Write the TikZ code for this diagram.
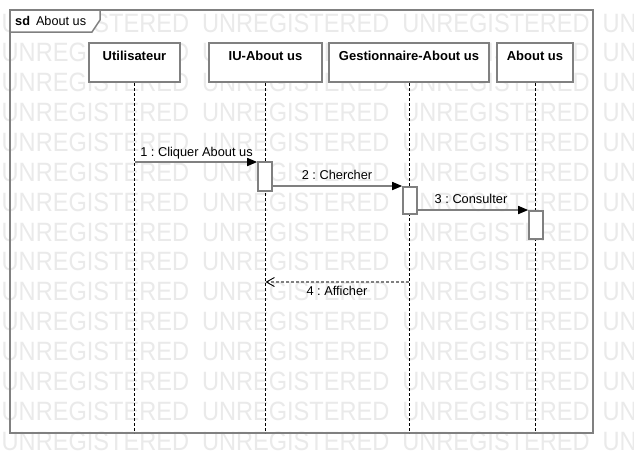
\documentclass[tikz,border=0pt]{standalone}
\usepackage{fontspec}
\setmainfont{Liberation Sans}
\usetikzlibrary{arrows.meta}
\frenchspacing
\definecolor{bordergray}{HTML}{808080}
\definecolor{wmgray}{HTML}{EAEAEA}
\tikzset{
  wm/.style={anchor=base west, inner sep=0pt, text=wmgray, font=\fontsize{26.5}{30}\selectfont},
  lbox/.style={draw=bordergray, line width=2pt, fill=white, anchor=north, minimum width=#1,
    text height=10pt, text depth=15pt, inner ysep=7pt, inner xsep=0pt,
    font=\fontsize{13}{15}\selectfont\bfseries},
  lifeline/.style={draw=black, line width=0.9pt, dash pattern=on 3pt off 2pt},
  act/.style={draw=bordergray, line width=1.6pt, fill=white, anchor=north, minimum width=14pt,
    minimum height=#1, inner sep=0pt},
  msg/.style={draw=bordergray, line width=1.6pt,
    -{Triangle[length=10pt,width=8pt,color=black,fill=black]}},
  ret/.style={draw=bordergray, line width=1.5pt, dash pattern=on 3pt off 2pt,
    -{Straight Barb[length=8pt,width=9pt,color=black,line width=0.9pt]}},
  lbl/.style={anchor=base, inner sep=0pt, font=\fontsize{12.8}{15}\selectfont},
}
\begin{document}
\frenchspacing
\begin{tikzpicture}[x=1pt,y=-1pt]
\useasboundingbox (0,0) rectangle (634,474);
\fill[white] (0,0) rectangle (634,474);
% watermark
\foreach \k in {0,...,14}{
  \foreach \j in {0,...,3}{
    \node[wm] (wm-\k-\j) at ({1.5+200.3*\j},{32+29.86*\k}) {\scalebox{0.89}[1]{UNREGISTERED}};
  }
}
% frame
\draw[bordergray, line width=2pt] (10,10) rectangle (593,433);
\filldraw[draw=bordergray, fill=white, line width=1.5pt] (10,10) -- (100,10) -- (100,20) -- (92,32) -- (10,32) -- cycle;
\node[anchor=base west, inner sep=0pt, font=\fontsize{12.7}{15}\selectfont] (sd) at (15,25) {\textbf{sd}\hspace{6pt}About us};
\coordinate (fb) at (0,433);
% lifeline heads
\node[lbox=91pt] (u) at (134.5,42) {Utilisateur};
\node[lbox=113pt] (iu) at (265.5,42) {IU-About us};
\node[lbox=160pt] (g) at (409,42) {Gestionnaire-About us};
\node[lbox=76pt] (ab) at (535,42) {About us};
% lifelines
\draw[lifeline] (u.south) -- (u.south |- fb);
\draw[lifeline] (iu.south) -- (iu.south |- fb);
\draw[lifeline] (g.south) -- (g.south |- fb);
\draw[lifeline] (ab.south) -- (ab.south |- fb);
% activations
\node[act=29pt] (a1) at (265,161) {};
\node[act=27pt] (a2) at (410,186) {};
\node[act=28pt] (a3) at (536,210) {};
% messages
\coordinate (m1) at (u.south |- 0,162);
\draw[msg] (m1) -- (m1 -| a1.west);
\draw[msg] (a2.north west -| a1.east) -- (a2.north west);
\draw[msg] (a3.north west -| a2.east) -- (a3.north west);
\coordinate (m4) at (g.south |- 0,282);
\draw[ret] (m4) -- (m4 -| iu.south);
% labels
\node[lbl] (l1) at (196.5,156) {1 : Cliquer About us};
\node[lbl] (l2) at (337,179) {2 : Chercher};
\node[lbl] (l3) at (471,203) {3 : Consulter};
\node[lbl] (l4) at (337,295) {4 : Afficher};
\end{tikzpicture}
\end{document}
